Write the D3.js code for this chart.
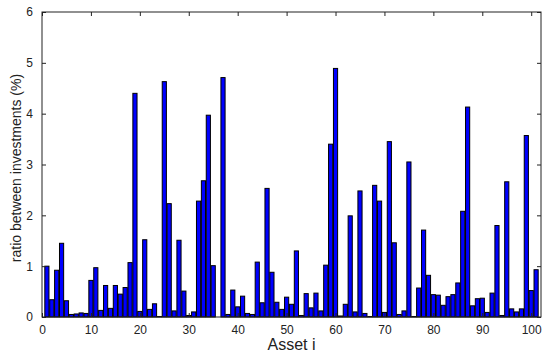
<!DOCTYPE html>
<html lang="en">
<head>
    <meta charset="UTF-8">
    <title>Ratio between investments</title>
    <script src="https://d3js.org/d3.v7.min.js"></script>
    <style>
        body { margin: 0; background: #fff; }
        text { font-family: "Liberation Sans", Arial, sans-serif; fill: #222; }
        .tick text { font-size: 12px; }
        .xlabel { font-size: 16px; }
        .ylabel { font-size: 14px; }
    </style>
</head>
<body>
    <svg width="550" height="355"></svg>
    <script>
        // ratio per asset (%)
        var ratios = [
            1.00, 0.34, 0.92, 1.45, 0.32, 0.05, 0.06, 0.08, 0.07, 0.72,
            0.97, 0.13, 0.62, 0.17, 0.62, 0.45, 0.58, 1.07, 4.40, 0.11,
            1.52, 0.15, 0.26, 0.01, 4.63, 2.23, 0.12, 1.51, 0.51, 0.03,
            0.10, 2.28, 2.68, 3.97, 1.01, 0.00, 4.71, 0.05, 0.53, 0.20,
            0.41, 0.07, 0.05, 1.08, 0.28, 2.53, 0.88, 0.29, 0.15, 0.39,
            0.25, 1.30, 0.03, 0.46, 0.18, 0.47, 0.12, 1.02, 3.40, 4.89,
            0.02, 0.25, 1.99, 0.10, 2.48, 0.07, 0.01, 2.59, 2.28, 0.09,
            3.45, 1.46, 0.05, 0.12, 3.05, 0.01, 0.57, 1.71, 0.82, 0.44,
            0.43, 0.23, 0.40, 0.44, 0.67, 2.08, 4.13, 0.22, 0.36, 0.37,
            0.09, 0.47, 1.80, 0.03, 2.66, 0.16, 0.10, 0.16, 3.57, 0.52,
            0.93
        ];
        var xTicks = [0, 10, 20, 30, 40, 50, 60, 70, 80, 90, 100];
        var yTicks = [0, 1, 2, 3, 4, 5, 6];

        var svg = d3.select("svg");
        var pLeft = 42, pRight = 541, pTop = 12, pBottom = 317;

        var x = d3.scaleLinear().domain([0, 102]).range([pLeft, pRight]);
        var y = d3.scaleLinear().domain([0, 6]).range([pBottom, pTop]);
        var bw = (x(1) - x(0)) * 0.85;

        // bars
        svg.append("g")
            .selectAll("rect")
            .data(ratios)
            .enter().append("rect")
            .attr("x", function(d, i) { return x(i + 1) - bw / 2; })
            .attr("y", function(d) { return y(d); })
            .attr("width", bw)
            .attr("height", function(d) { return pBottom - y(d); })
            .attr("fill", "#0000ff")
            .attr("stroke", "#000")
            .attr("stroke-width", 1);

        // axes with inward ticks
        var xAxis = svg.append("g")
            .attr("transform", "translate(0," + pBottom + ")")
            .call(d3.axisBottom(x).tickValues(xTicks).tickSizeInner(-4).tickSizeOuter(0).tickPadding(8));
        var xTop = svg.append("g")
            .attr("transform", "translate(0," + pTop + ")")
            .call(d3.axisTop(x).tickValues(xTicks).tickSizeInner(-4).tickSizeOuter(0).tickFormat(""));
        var yAxis = svg.append("g")
            .attr("transform", "translate(" + pLeft + ",0)")
            .call(d3.axisLeft(y).tickValues(yTicks).tickFormat(d3.format("d"))
                .tickSizeInner(-4).tickSizeOuter(0).tickPadding(9));
        var yRight = svg.append("g")
            .attr("transform", "translate(" + pRight + ",0)")
            .call(d3.axisRight(y).tickValues(yTicks).tickSizeInner(-4).tickSizeOuter(0).tickFormat(""));

        [xAxis, xTop, yAxis, yRight].forEach(function(g) {
            g.select(".domain").remove();
            g.selectAll(".tick line").attr("stroke", "#222");
            g.selectAll(".tick text").attr("font-size", null).attr("fill", "#222");
        });

        // box
        svg.append("rect")
            .attr("x", pLeft).attr("y", pTop)
            .attr("width", pRight - pLeft).attr("height", pBottom - pTop)
            .attr("fill", "none").attr("stroke", "#222").attr("stroke-width", 1);

        svg.append("text")
            .attr("class", "xlabel")
            .attr("x", (pLeft + pRight) / 2)
            .attr("y", 350)
            .attr("text-anchor", "middle")
            .text("Asset i");

        svg.append("text")
            .attr("class", "ylabel")
            .attr("transform", "translate(21,168) rotate(-90)")
            .attr("text-anchor", "middle")
            .text("ratio between investments (%)");
    </script>
</body>
</html>
